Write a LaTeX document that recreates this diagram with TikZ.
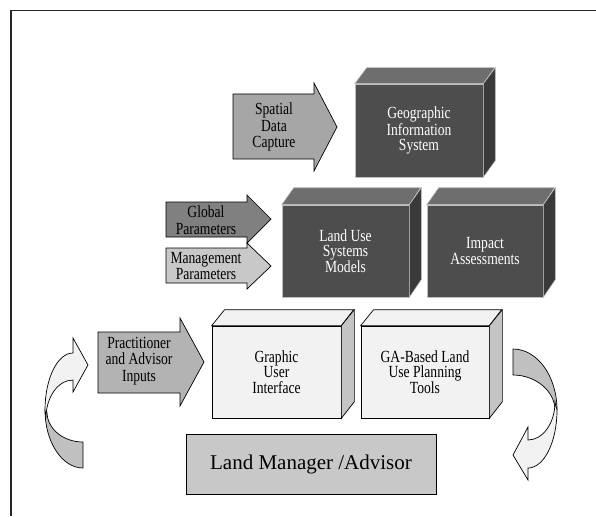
\documentclass[tikz,border=0pt]{standalone}
\usepackage{fontspec}
\setmainfont{Liberation Serif}
\newfontfamily\condserif[FakeStretch=0.8]{Liberation Serif}
\newcommand\boxfont{\condserif\fontsize{17}{15.5}\selectfont}
\newcommand\tightfont{\condserif\fontsize{17}{16.5}\selectfont}
\newcommand\loosefont{\condserif\fontsize{17}{16.5}\selectfont}
\definecolor{dkfront}{HTML}{4D4D4D}
\definecolor{dktop}{HTML}{6E6E6E}
\definecolor{dkside}{HTML}{3A3A3A}
\definecolor{ltfront}{HTML}{F2F2F2}
\definecolor{ltside}{HTML}{C4C4C4}
\definecolor{arrspatial}{HTML}{A6A6A6}
\definecolor{arrglobal}{HTML}{808080}
\definecolor{arrmgmt}{HTML}{C8C8C8}
\definecolor{arrpract}{HTML}{B3B3B3}
\definecolor{lmfill}{HTML}{C8C8C8}
\definecolor{cvback}{HTML}{C0C0C0}
\begin{document}
\begin{tikzpicture}[x=1pt,y=-1pt,
  frameline/.style={draw=black!85, line width=1.4pt},
  darkface/.style={rectangle, draw=black!25, line width=0.6pt, fill=dkfront, text=white, align=center, inner sep=0pt, font=\boxfont},
  darkpart/.style={draw=black!25, line width=0.6pt},
  lightface/.style={rectangle, draw=black, line width=0.7pt, fill=ltfront, align=center, inner sep=0pt, font=\boxfont},
  lightpart/.style={draw=black, line width=0.7pt},
  blockarrow/.style={draw=black, line width=0.7pt},
  arrowlabel/.style={align=center, inner sep=0pt},
  curvedback/.style={draw=black, line width=0.7pt, fill=cvback},
  curvedfront/.style={draw=black, line width=0.7pt, fill=ltfront},
  lmbox/.style={rectangle, draw=black, line width=1pt, fill=lmfill, inner sep=0pt, font=\fontsize{21}{24}\selectfont}
]
\useasboundingbox (0,0) rectangle (596,516);
\fill[white] (0,0) rectangle (596,516);
% frame
\draw[frameline] (11,516) -- (11,10.5) -- (596,10.5);

% ---------- GIS box ----------
\node[darkface, minimum width=128pt, minimum height=93pt] (gis) at (419,130.5) {Geographic\\Information\\System};
\draw[darkpart, fill=dktop] (gis.north west) -- ++(12,-16) -- ++(128,0) -- (gis.north east) -- cycle;
\draw[darkpart, fill=dkside] (gis.north east) -- ++(12,-16) -- ++(0,93) -- (gis.south east) -- cycle;

% ---------- Land Use Systems Models ----------
\node[darkface, minimum width=127pt, minimum height=92pt] (lusm) at (345.5,251) {Land Use\\Systems\\Models};
\draw[darkpart, fill=dktop] (lusm.north west) -- ++(12,-17) -- ++(127,0) -- (lusm.north east) -- cycle;
\draw[darkpart, fill=dkside] (lusm.north east) -- ++(12,-17) -- ++(0,92) -- (lusm.south east) -- cycle;

% ---------- Impact Assessments ----------
\node[darkface, minimum width=116pt, minimum height=92pt] (impact) at (485,251) {Impact\\Assessments};
\draw[darkpart, fill=dktop] (impact.north west) -- ++(12,-17) -- ++(116,0) -- (impact.north east) -- cycle;
\draw[darkpart, fill=dkside] (impact.north east) -- ++(12,-17) -- ++(0,92) -- (impact.south east) -- cycle;

% ---------- Graphic User Interface ----------
\node[lightface, minimum width=129pt, minimum height=92pt] (gui) at (276.5,372) {Graphic\\User\\Interface};
\draw[lightpart, fill=ltfront] (gui.north west) -- ++(13,-16) -- ++(129,0) -- (gui.north east) -- cycle;
\draw[lightpart, fill=ltside] (gui.north east) -- ++(13,-16) -- ++(0,92) -- (gui.south east) -- cycle;

% ---------- GA-Based Land Use Planning Tools ----------
\node[lightface, minimum width=128pt, minimum height=92pt] (ga) at (425,372) {GA-Based Land\\Use Planning\\Tools};
\draw[lightpart, fill=ltfront] (ga.north west) -- ++(13,-16) -- ++(128,0) -- (ga.north east) -- cycle;
\draw[lightpart, fill=ltside] (ga.north east) -- ++(13,-16) -- ++(0,92) -- (ga.south east) -- cycle;

% ---------- Block arrows ----------
\draw[blockarrow, fill=arrspatial] (233,94) -- (314,94) -- (314,83) -- (337,127) -- (314,171) -- (314,159) -- (233,159) -- cycle;
\node[arrowlabel, font=\loosefont] (sdc) at (274,127) {Spatial\\Data\\Capture};

\draw[blockarrow, fill=arrglobal] (166,202) -- (247,202) -- (247,195) -- (271,219) -- (247,243) -- (247,237) -- (166,237) -- cycle;
\node[arrowlabel, font=\tightfont] (glob) at (206,220) {Global\\Parameters};

\draw[blockarrow, fill=arrmgmt] (166,248) -- (247,248) -- (247,243) -- (271,266) -- (247,289) -- (247,283) -- (166,283) -- cycle;
\node[arrowlabel, font=\tightfont] (mgmt) at (206,266) {Management\\Parameters};

\draw[blockarrow, fill=arrpract] (98,332) -- (180,332) -- (180,318) -- (204,362) -- (180,406) -- (180,393) -- (98,393) -- cycle;
\node[arrowlabel, font=\loosefont] (pract) at (139,361) {Practitioner\\and Advisor\\Inputs};

% ---------- Land Manager / Advisor ----------
\node[lmbox, minimum width=250pt, minimum height=60pt] (lm) at (311,464) {Land Manager /Advisor};

% ---------- left curved arrow ----------
\draw[curvedback] (83,468) .. controls (62,468) and (45,442) .. (45,410) -- (47,412)
  .. controls (47,428.6) and (63.1,442) .. (83,442) -- cycle;
\draw[curvedfront] (45,410) .. controls (45,378.5) and (57.5,353) .. (73,353)
  -- (73,338) -- (88,365) -- (73,392) -- (73,380)
  .. controls (58.1,380) and (46,397) .. (46,418) -- cycle;

% ---------- right curved arrow ----------
\draw[curvedback] (513,349) .. controls (537.3,349) and (557,376.3) .. (557,410) -- (555,410)
  .. controls (555,391.8) and (536.2,375) .. (513,375) -- cycle;
\draw[curvedfront] (557,410) .. controls (557,442) and (544,468) .. (528,468)
  -- (528,480) -- (513,455) -- (528,427) -- (528,440)
  .. controls (542.9,440) and (555,423) .. (555,402) -- cycle;
\end{tikzpicture}
\end{document}
